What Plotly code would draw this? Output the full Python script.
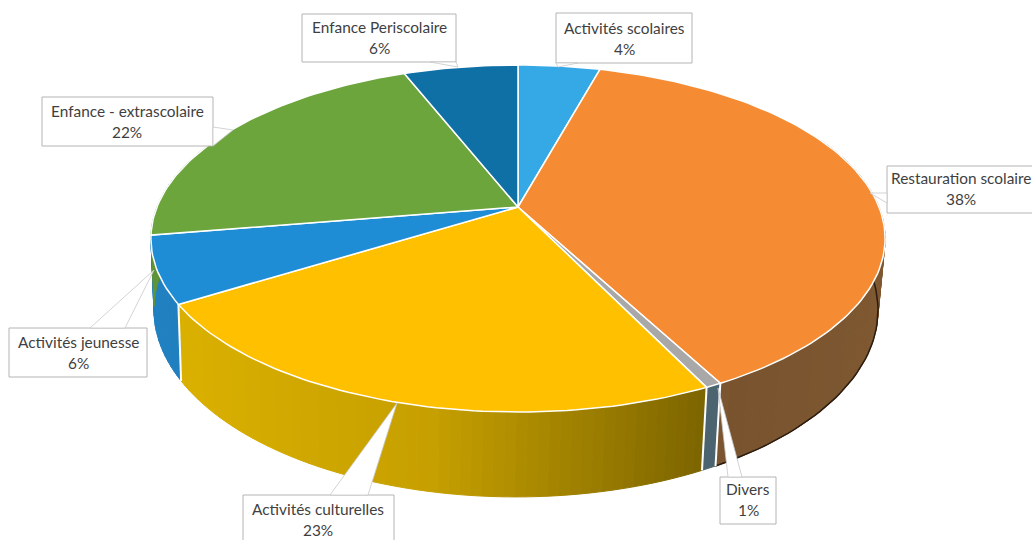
import numpy as np
import plotly.graph_objects as go

categories = [
    "Activités scolaires",
    "Restauration scolaire",
    "Divers",
    "Activités culturelles",
    "Activités jeunesse",
    "Enfance - extrascolaire",
    "Enfance Periscolaire",
]
values = [4.3, 37.9, 0.6, 23.4, 6.2, 21.6, 6.0]

top_colors = ["#35a8e6", "#f58b33", "#a8a8a8", "#ffc000", "#1f8dd6", "#6ba53c", "#0f70a6"]
wall_colors = ["#35a8e6", "#ffb162", "#98cce1", "#f8c800", "#2490d8", "#6ba53c", "#0f70a6"]

# label box: x0, y0, x1, y1, then the pointer as base point, tip, base point
callouts = [
    (556, 13, 692, 63, (578, 63), (558, 67), (556, 63)),
    (887, 166, 1040, 213, (887, 193), (870, 193), (887, 203)),
    (720, 477, 776, 524, (742, 477), (718, 388), (728, 477)),
    (243, 495, 394, 546, (368, 495), (397, 403), (330, 495)),
    (9, 328, 147, 377, (125, 328), (154, 270), (90, 328)),
    (42, 97, 213, 146, (213, 127), (233, 130), (213, 146)),
    (302, 14, 456, 62, (430, 62), (458, 67), (456, 62)),
]
label_x = [624, 961, 748, 318, 78, 127, 379]
label_y = [28, 178, 489, 509, 342, 111, 27]
LINE_GAP = 21

# the pie is a tilted disc seen in perspective, so its centre sits above the middle of the ellipse
TILT = 0.1816
TOP = {"xc": 518, "yc": 207, "rx": 361, "ry": 167.8}
BOTTOM = {"xc": 516, "yc": 276, "rx": 356, "ry": 180.8}


def project(frac, disc):
    angle = 2 * np.pi * np.asarray(frac, dtype=float)
    u, v = np.sin(angle), np.cos(angle)
    w = 1 + TILT * v
    return disc["xc"] + disc["rx"] * u / w, disc["yc"] - disc["ry"] * v / w


def shade(color, frac):
    u = np.sin(2 * np.pi * frac)
    k = np.interp(u, [-1, -0.2, 0.5, 1], [0.9, 0.8, 0.47, 0.5])
    rgb = [int(color[i : i + 2], 16) * k for i in (1, 3, 5)]
    return "rgb({:.0f},{:.0f},{:.0f})".format(*rgb)


fractions = np.cumsum([0] + values) / sum(values)

fig = go.Figure()

# side wall, cut in thin strips to get the shading
for i in range(len(values)):
    start, end = max(fractions[i], 0.18), min(fractions[i + 1], 0.82)
    if end <= start:
        continue
    steps = np.linspace(start, end, max(2, int((end - start) / 0.004) + 1))
    for a, b in zip(steps[:-1], steps[1:]):
        fr = np.array([a, b])
        tx, ty = project(fr, TOP)
        bx, by = project(fr, BOTTOM)
        color = shade(wall_colors[i], (a + b) / 2)
        fig.add_trace(
            go.Scatter(
                x=[tx[0], tx[1], bx[1], bx[0], tx[0]],
                y=[ty[0], ty[1], by[1], by[0], ty[0]],
                mode="lines",
                fill="toself",
                fillcolor=color,
                line={"color": color, "width": 1},
                hoverinfo="skip",
            )
        )

# dark edge under the orange wall
edge_x, edge_y = project(np.linspace(0.18, fractions[2], 60), BOTTOM)
fig.add_trace(
    go.Scatter(
        x=edge_x,
        y=edge_y,
        mode="lines",
        line={"color": "#2a1c10", "width": 1.5},
        hoverinfo="skip",
    )
)

# white seams between the wall pieces
for frac in fractions[2:5]:
    tx, ty = project([frac], TOP)
    bx, by = project([frac], BOTTOM)
    fig.add_trace(
        go.Scatter(
            x=[tx[0], bx[0]],
            y=[ty[0], by[0]],
            mode="lines",
            line={"color": "white", "width": 2},
            hoverinfo="skip",
        )
    )

# top face
for i, name in enumerate(categories):
    arc = np.linspace(fractions[i], fractions[i + 1], max(2, int(values[i] * 3)))
    ax, ay = project(arc, TOP)
    fig.add_trace(
        go.Scatter(
            x=np.r_[TOP["xc"], ax, TOP["xc"]],
            y=np.r_[TOP["yc"], ay, TOP["yc"]],
            mode="lines",
            fill="toself",
            fillcolor=top_colors[i],
            line={"color": "white", "width": 1.5},
            name=name,
            text=f"{name}: {values[i]:.0f}%",
            hoveron="fills",
            hoverinfo="text",
        )
    )

# callouts with two lines of text
for name, value, box, x, y in zip(categories, values, callouts, label_x, label_y):
    x0, y0, x1, y1, p1, tip, p2 = box
    fig.add_shape(
        type="path",
        path=f"M{x0},{y0} H{x1} V{y1} H{x0} Z",
        fillcolor="white",
        line={"color": "#b4b4b4", "width": 1},
    )
    fig.add_shape(
        type="path",
        path=f"M{p1[0]},{p1[1]} L{tip[0]},{tip[1]} L{p2[0]},{p2[1]} Z",
        fillcolor="white",
        line={"color": "#c8c8c8", "width": 0.8},
    )
    fig.add_annotation(x=x, y=y, text=name, showarrow=False, font={"size": 15.4})
    fig.add_annotation(x=x, y=y + LINE_GAP, text=f"{value:.0f}%", showarrow=False, font={"size": 15.4})

fig.update_layout(
    width=1032,
    height=540,
    margin={"l": 0, "r": 0, "t": 0, "b": 0},
    paper_bgcolor="white",
    plot_bgcolor="white",
    showlegend=False,
    font={"family": "Lato", "color": "#3f3f3f"},
    xaxis={"range": [0, 1032], "visible": False, "fixedrange": True},
    yaxis={"range": [540, 0], "visible": False, "fixedrange": True},
)

fig.write_html(
    "out.html",
    config={"displayModeBar": False},
    post_script="document.body.style.margin = '0';",
)
